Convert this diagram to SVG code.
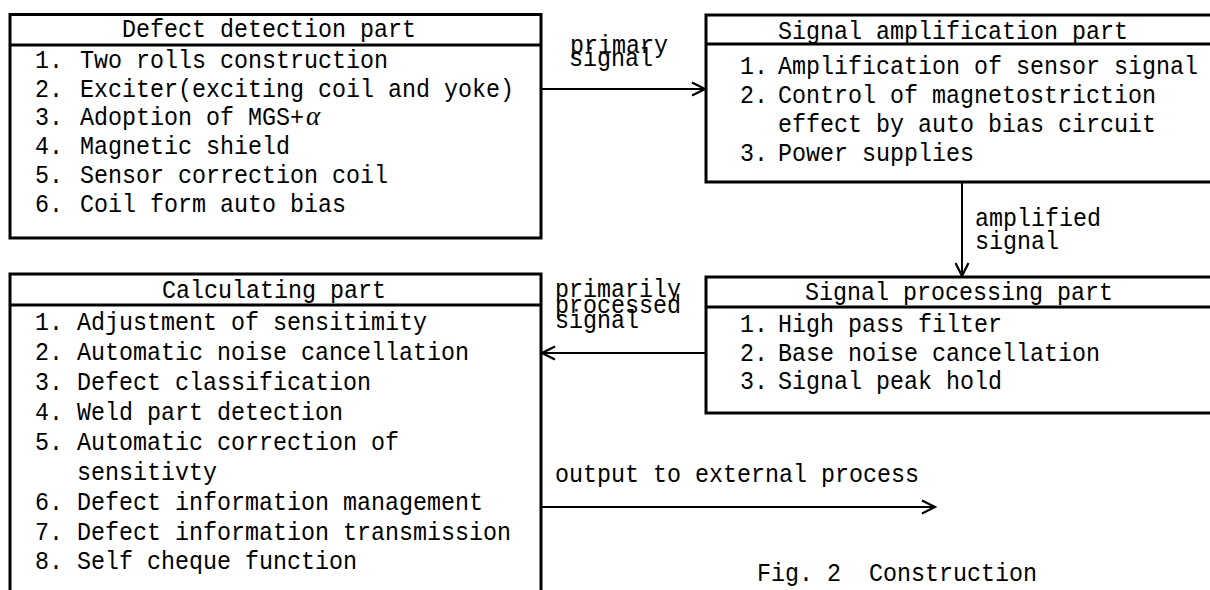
<svg xmlns="http://www.w3.org/2000/svg" width="1210" height="590" viewBox="0 0 1210 590">
<style>
.box{fill:#fff;stroke:#000;stroke-width:3}
.sep{stroke:#000;stroke-width:3}
.t{font-family:"Liberation Mono","DejaVu Sans Mono",monospace;font-size:26px;fill:#000}
.a{fill:#000;font-family:"Liberation Serif",serif;font-style:italic;font-size:27px}
.ln{stroke:#000;stroke-width:2;fill:none}
</style>
<defs>
<marker id="ah" markerUnits="userSpaceOnUse" markerWidth="16" markerHeight="16" refX="14" refY="8" orient="auto">
<path d="M1,1.5 L14,8 L1,14.5" fill="none" stroke="#000" stroke-width="2.2"/>
</marker>
</defs>
<rect width="1210" height="590" fill="#fff"/>

<g id="connectors">
<line class="ln" x1="541" y1="89" x2="705" y2="89" marker-end="url(#ah)"/>
<line class="ln" x1="962" y1="182" x2="962" y2="276" marker-end="url(#ah)"/>
<line class="ln" x1="706" y1="353" x2="542" y2="353" marker-end="url(#ah)"/>
<line class="ln" x1="541" y1="507" x2="935" y2="507" marker-end="url(#ah)"/>
<text class="t" x="570" y="53" textLength="98" lengthAdjust="spacingAndGlyphs">primary</text>
<text class="t" x="569" y="66" textLength="84" lengthAdjust="spacingAndGlyphs">signal</text>
<text class="t" x="975" y="226" textLength="126" lengthAdjust="spacingAndGlyphs">amplified</text>
<text class="t" x="975" y="249" textLength="84" lengthAdjust="spacingAndGlyphs">signal</text>
<text class="t" x="555" y="297" textLength="126" lengthAdjust="spacingAndGlyphs">primarily</text>
<text class="t" x="555" y="313" textLength="126" lengthAdjust="spacingAndGlyphs">processed</text>
<text class="t" x="555" y="328" textLength="84" lengthAdjust="spacingAndGlyphs">signal</text>
<text class="t" x="555" y="482" textLength="364" lengthAdjust="spacingAndGlyphs">output to external process</text>
</g>

<g id="defect-detection">
<rect class="box" x="10" y="14.5" width="531" height="223.5"/>
<line class="sep" x1="10" y1="45" x2="541" y2="45"/>
<text class="t" x="122" y="37" textLength="294" lengthAdjust="spacingAndGlyphs">Defect detection part</text>
<text class="t" x="35" y="68" textLength="28" lengthAdjust="spacingAndGlyphs">1.</text>
<text class="t" x="80" y="68" textLength="308" lengthAdjust="spacingAndGlyphs">Two rolls construction</text>
<text class="t" x="35" y="97" textLength="28" lengthAdjust="spacingAndGlyphs">2.</text>
<text class="t" x="80" y="97" textLength="434" lengthAdjust="spacingAndGlyphs">Exciter(exciting coil and yoke)</text>
<text class="t" x="35" y="125" textLength="28" lengthAdjust="spacingAndGlyphs">3.</text>
<text class="t" x="80" y="125" textLength="224" lengthAdjust="spacingAndGlyphs">Adoption of MGS+</text>
<text class="a" x="306" y="125">α</text>
<text class="t" x="35" y="154" textLength="28" lengthAdjust="spacingAndGlyphs">4.</text>
<text class="t" x="80" y="154" textLength="210" lengthAdjust="spacingAndGlyphs">Magnetic shield</text>
<text class="t" x="35" y="183" textLength="28" lengthAdjust="spacingAndGlyphs">5.</text>
<text class="t" x="80" y="183" textLength="308" lengthAdjust="spacingAndGlyphs">Sensor correction coil</text>
<text class="t" x="35" y="212" textLength="28" lengthAdjust="spacingAndGlyphs">6.</text>
<text class="t" x="80" y="212" textLength="266" lengthAdjust="spacingAndGlyphs">Coil form auto bias</text>
</g>

<g id="signal-amplification">
<rect class="box" x="706" y="15" width="520" height="167"/>
<line class="sep" x1="706" y1="44" x2="1226" y2="44"/>
<text class="t" x="778" y="39" textLength="350" lengthAdjust="spacingAndGlyphs">Signal amplification part</text>
<text class="t" x="740" y="74" textLength="28" lengthAdjust="spacingAndGlyphs">1.</text>
<text class="t" x="778" y="74" textLength="420" lengthAdjust="spacingAndGlyphs">Amplification of sensor signal</text>
<text class="t" x="740" y="103" textLength="28" lengthAdjust="spacingAndGlyphs">2.</text>
<text class="t" x="778" y="103" textLength="378" lengthAdjust="spacingAndGlyphs">Control of magnetostriction</text>
<text class="t" x="778" y="132" textLength="378" lengthAdjust="spacingAndGlyphs">effect by auto bias circuit</text>
<text class="t" x="740" y="161" textLength="28" lengthAdjust="spacingAndGlyphs">3.</text>
<text class="t" x="778" y="161" textLength="196" lengthAdjust="spacingAndGlyphs">Power supplies</text>
</g>

<g id="signal-processing">
<rect class="box" x="706" y="277" width="520" height="136"/>
<line class="sep" x1="706" y1="307" x2="1226" y2="307"/>
<text class="t" x="805" y="300" textLength="308" lengthAdjust="spacingAndGlyphs">Signal processing part</text>
<text class="t" x="740" y="332" textLength="28" lengthAdjust="spacingAndGlyphs">1.</text>
<text class="t" x="778" y="332" textLength="224" lengthAdjust="spacingAndGlyphs">High pass filter</text>
<text class="t" x="740" y="361" textLength="28" lengthAdjust="spacingAndGlyphs">2.</text>
<text class="t" x="778" y="361" textLength="322" lengthAdjust="spacingAndGlyphs">Base noise cancellation</text>
<text class="t" x="740" y="389" textLength="28" lengthAdjust="spacingAndGlyphs">3.</text>
<text class="t" x="778" y="389" textLength="224" lengthAdjust="spacingAndGlyphs">Signal peak hold</text>
</g>

<g id="calculating">
<rect class="box" x="10" y="274" width="531" height="330"/>
<line class="sep" x1="10" y1="305" x2="541" y2="305"/>
<text class="t" x="162" y="298" textLength="224" lengthAdjust="spacingAndGlyphs">Calculating part</text>
<text class="t" x="35" y="330" textLength="28" lengthAdjust="spacingAndGlyphs">1.</text>
<text class="t" x="77" y="330" textLength="350" lengthAdjust="spacingAndGlyphs">Adjustment of sensitimity</text>
<text class="t" x="35" y="360" textLength="28" lengthAdjust="spacingAndGlyphs">2.</text>
<text class="t" x="77" y="360" textLength="392" lengthAdjust="spacingAndGlyphs">Automatic noise cancellation</text>
<text class="t" x="35" y="390" textLength="28" lengthAdjust="spacingAndGlyphs">3.</text>
<text class="t" x="77" y="390" textLength="294" lengthAdjust="spacingAndGlyphs">Defect classification</text>
<text class="t" x="35" y="420" textLength="28" lengthAdjust="spacingAndGlyphs">4.</text>
<text class="t" x="77" y="420" textLength="266" lengthAdjust="spacingAndGlyphs">Weld part detection</text>
<text class="t" x="35" y="450" textLength="28" lengthAdjust="spacingAndGlyphs">5.</text>
<text class="t" x="77" y="450" textLength="322" lengthAdjust="spacingAndGlyphs">Automatic correction of</text>
<text class="t" x="77" y="480" textLength="140" lengthAdjust="spacingAndGlyphs">sensitivty</text>
<text class="t" x="35" y="510" textLength="28" lengthAdjust="spacingAndGlyphs">6.</text>
<text class="t" x="77" y="510" textLength="406" lengthAdjust="spacingAndGlyphs">Defect information management</text>
<text class="t" x="35" y="540" textLength="28" lengthAdjust="spacingAndGlyphs">7.</text>
<text class="t" x="77" y="540" textLength="434" lengthAdjust="spacingAndGlyphs">Defect information transmission</text>
<text class="t" x="35" y="569" textLength="28" lengthAdjust="spacingAndGlyphs">8.</text>
<text class="t" x="77" y="569" textLength="280" lengthAdjust="spacingAndGlyphs">Self cheque function</text>
</g>

<g id="caption">
<text class="t" x="757" y="581"><tspan textLength="84" lengthAdjust="spacingAndGlyphs">Fig. 2</tspan><tspan x="869" textLength="168" lengthAdjust="spacingAndGlyphs">Construction</tspan></text>
</g>
</svg>
